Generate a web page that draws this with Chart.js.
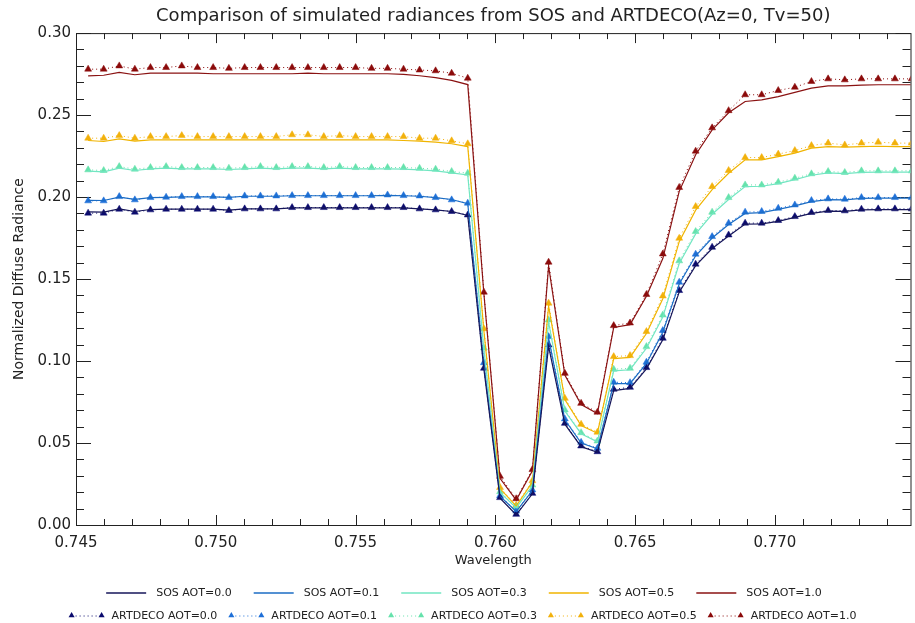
<!DOCTYPE html>
<html lang="en">
  <head>
    <meta charset="utf-8" />
    <title>SOS vs ARTDECO</title>
    <script src="https://cdn.jsdelivr.net/npm/chart.js@4.4.1/dist/chart.umd.min.js"></script>
    <style>
      body { margin: 0; background: #fff; }
      .wrap { width: 915px; height: 623px; }
    </style>
  </head>
  <body>
    <div class="wrap"><canvas id="chart"></canvas></div>
    <script>
      // wavelength of each sample (um)
      const wavelength = [
        0.745434, 0.745990, 0.746547, 0.747105, 0.747664, 0.748223, 0.748783, 0.749344, 0.749906, 0.750469, 0.751033, 0.751597, 0.752163,
        0.752729, 0.753296, 0.753864, 0.754432, 0.755002, 0.755572, 0.756144, 0.756716, 0.757289, 0.757863, 0.758437, 0.759013, 0.759590,
        0.760167, 0.760746, 0.761325, 0.761905, 0.762486, 0.763068, 0.763650, 0.764234, 0.764818, 0.765404, 0.765990, 0.766577, 0.767165,
        0.767754, 0.768344, 0.768935, 0.769527, 0.770119, 0.770713, 0.771307, 0.771903, 0.772499, 0.773096, 0.773694, 0.774293, 0.774893
      ];
      const aotLabels = ["0.0", "0.1", "0.3", "0.5", "1.0"];
      const xTicks = [0.745, 0.75, 0.755, 0.76, 0.765, 0.77];
      const yTicks = [0, 0.05, 0.1, 0.15, 0.2, 0.25, 0.3];

      const sos00 = [
        0.1910, 0.1908, 0.1928, 0.1912, 0.1924, 0.1926, 0.1926, 0.1926, 0.1926, 0.1920, 0.1928, 0.1928, 0.1928,
        0.1934, 0.1934, 0.1934, 0.1934, 0.1934, 0.1934, 0.1934, 0.1934, 0.1928, 0.1922, 0.1912, 0.1888, 0.0950,
        0.0163, 0.0062, 0.0190, 0.1090, 0.0615, 0.0478, 0.0444, 0.0820, 0.0833, 0.0952, 0.1130, 0.1420, 0.1582,
        0.1686, 0.1762, 0.1835, 0.1836, 0.1852, 0.1876, 0.1901, 0.1914, 0.1913, 0.1922, 0.1924, 0.1924, 0.1924
      ];
      const sos01 = [
        0.1980, 0.1979, 0.2000, 0.1986, 0.1996, 0.1998, 0.2001, 0.2001, 0.2001, 0.1998, 0.2005, 0.2005, 0.2005,
        0.2008, 0.2008, 0.2008, 0.2008, 0.2008, 0.2008, 0.2010, 0.2008, 0.2005, 0.1997, 0.1985, 0.1960, 0.0982,
        0.0175, 0.0082, 0.0210, 0.1140, 0.0642, 0.0500, 0.0465, 0.0862, 0.0862, 0.0985, 0.1176, 0.1470, 0.1642,
        0.1750, 0.1833, 0.1900, 0.1905, 0.1925, 0.1946, 0.1972, 0.1984, 0.1983, 0.1992, 0.1993, 0.1993, 0.1993
      ];
      const sos03 = [
        0.2158, 0.2154, 0.2176, 0.2162, 0.2172, 0.2176, 0.2172, 0.2172, 0.2172, 0.2168, 0.2172, 0.2176, 0.2172,
        0.2176, 0.2176, 0.2172, 0.2176, 0.2172, 0.2172, 0.2172, 0.2170, 0.2166, 0.2160, 0.2148, 0.2135, 0.1070,
        0.0198, 0.0104, 0.0238, 0.1238, 0.0695, 0.0557, 0.0507, 0.0940, 0.0947, 0.1078, 0.1268, 0.1595, 0.1775,
        0.1895, 0.1985, 0.2064, 0.2066, 0.2082, 0.2106, 0.2133, 0.2147, 0.2143, 0.2151, 0.2152, 0.2152, 0.2152
      ];
      const sos05 = [
        0.2345, 0.2339, 0.2355, 0.2341, 0.2349, 0.2349, 0.2349, 0.2349, 0.2349, 0.2349, 0.2349, 0.2349, 0.2349,
        0.2349, 0.2349, 0.2349, 0.2349, 0.2349, 0.2349, 0.2349, 0.2345, 0.2341, 0.2335, 0.2325, 0.2308, 0.1185,
        0.0222, 0.0115, 0.0262, 0.1335, 0.0765, 0.0607, 0.0560, 0.1015, 0.1022, 0.1168, 0.1380, 0.1728, 0.1920,
        0.2045, 0.2145, 0.2227, 0.2227, 0.2247, 0.2268, 0.2298, 0.2308, 0.2305, 0.2308, 0.2310, 0.2308, 0.2308
      ];
      const sos10 = [
        0.2739, 0.2743, 0.2760, 0.2746, 0.2756, 0.2756, 0.2756, 0.2756, 0.2752, 0.2752, 0.2752, 0.2752, 0.2752,
        0.2752, 0.2756, 0.2752, 0.2752, 0.2752, 0.2752, 0.2752, 0.2748, 0.2740, 0.2728, 0.2712, 0.2686, 0.1410,
        0.0285, 0.0152, 0.0330, 0.1580, 0.0915, 0.0735, 0.0680, 0.1205, 0.1222, 0.1395, 0.1625, 0.2035, 0.2258,
        0.2410, 0.2514, 0.2583, 0.2593, 0.2613, 0.2638, 0.2664, 0.2678, 0.2678, 0.2683, 0.2685, 0.2685, 0.2685
      ];

      const art00 = [
        0.1902, 0.1902, 0.1926, 0.1908, 0.1922, 0.1926, 0.1926, 0.1926, 0.1926, 0.1918, 0.1928, 0.1928, 0.1928,
        0.1936, 0.1936, 0.1936, 0.1936, 0.1936, 0.1936, 0.1936, 0.1936, 0.1928, 0.1922, 0.1912, 0.1891, 0.0956,
        0.0167, 0.0065, 0.0193, 0.1098, 0.0620, 0.0482, 0.0447, 0.0828, 0.0840, 0.0960, 0.1139, 0.1430, 0.1591,
        0.1694, 0.1769, 0.1841, 0.1841, 0.1857, 0.1881, 0.1906, 0.1918, 0.1916, 0.1926, 0.1928, 0.1928, 0.1928
      ];
      const art01 = [
        0.1977, 0.1977, 0.2003, 0.1983, 0.1997, 0.1999, 0.2003, 0.2003, 0.2003, 0.1997, 0.2007, 0.2007, 0.2007,
        0.2009, 0.2009, 0.2009, 0.2009, 0.2009, 0.2009, 0.2013, 0.2009, 0.2007, 0.1997, 0.1983, 0.1963, 0.0990,
        0.0179, 0.0085, 0.0214, 0.1149, 0.0647, 0.0504, 0.0468, 0.0871, 0.0868, 0.0993, 0.1186, 0.1481, 0.1652,
        0.1759, 0.1841, 0.1908, 0.1912, 0.1932, 0.1952, 0.1979, 0.1989, 0.1987, 0.1997, 0.1997, 0.1997, 0.1997
      ];
      const art03 = [
        0.2166, 0.2162, 0.2186, 0.2170, 0.2180, 0.2186, 0.2180, 0.2180, 0.2180, 0.2176, 0.2180, 0.2186, 0.2180,
        0.2186, 0.2186, 0.2180, 0.2186, 0.2180, 0.2180, 0.2180, 0.2180, 0.2176, 0.2170, 0.2156, 0.2146, 0.1080,
        0.0203, 0.0108, 0.0244, 0.1251, 0.0702, 0.0563, 0.0512, 0.0950, 0.0956, 0.1088, 0.1281, 0.1611, 0.1790,
        0.1908, 0.1997, 0.2074, 0.2074, 0.2091, 0.2115, 0.2142, 0.2156, 0.2150, 0.2160, 0.2160, 0.2160, 0.2160
      ];
      const art05 = [
        0.2359, 0.2359, 0.2375, 0.2359, 0.2369, 0.2369, 0.2375, 0.2369, 0.2369, 0.2369, 0.2369, 0.2369, 0.2369,
        0.2380, 0.2380, 0.2369, 0.2375, 0.2369, 0.2369, 0.2369, 0.2369, 0.2359, 0.2359, 0.2343, 0.2325, 0.1197,
        0.0229, 0.0120, 0.0270, 0.1353, 0.0773, 0.0614, 0.0566, 0.1027, 0.1033, 0.1180, 0.1397, 0.1749, 0.1942,
        0.2064, 0.2162, 0.2241, 0.2241, 0.2262, 0.2284, 0.2314, 0.2329, 0.2318, 0.2329, 0.2335, 0.2329, 0.2329
      ];
      const art10 = [
        0.2780, 0.2780, 0.2800, 0.2780, 0.2790, 0.2790, 0.2800, 0.2790, 0.2790, 0.2785, 0.2790, 0.2790, 0.2790,
        0.2790, 0.2790, 0.2790, 0.2790, 0.2790, 0.2785, 0.2785, 0.2780, 0.2775, 0.2770, 0.2755, 0.2725, 0.1420,
        0.0297, 0.0160, 0.0338, 0.1603, 0.0925, 0.0742, 0.0688, 0.1216, 0.1232, 0.1406, 0.1653, 0.2059, 0.2280,
        0.2422, 0.2527, 0.2624, 0.2624, 0.2650, 0.2670, 0.2705, 0.2721, 0.2715, 0.2721, 0.2721, 0.2721, 0.2721
      ];

      const sosSeries = [sos00, sos01, sos03, sos05, sos10];
      const artSeries = [art00, art01, art03, art05, art10];
      const sosColors = ["#16165a", "#1b6cc4", "#72e6c2", "#f0b400", "#8a1212"];
      const artColors = ["#0b0b6e", "#1f70d8", "#66e2ac", "#f2b10c", "#8b0a0a"];

      const toXY = (vals) => vals.map((v, i) => ({ x: wavelength[i], y: v }));

      const datasets = [];
      aotLabels.forEach((aot, k) => {
        datasets.push({
          label: "SOS AOT=" + aot,
          group: "SOS",
          data: toXY(sosSeries[k]),
          borderColor: sosColors[k],
          borderWidth: 1.2,
          pointRadius: 0,
          tension: 0,
        });
      });
      aotLabels.forEach((aot, k) => {
        datasets.push({
          label: "ARTDECO AOT=" + aot,
          group: "ARTDECO",
          data: toXY(artSeries[k]),
          borderColor: artColors[k],
          borderWidth: 1,
          borderDash: [1, 3],
          pointStyle: "triangle",
          pointRadius: 4,
          pointBackgroundColor: artColors[k],
          pointBorderColor: artColors[k],
          pointBorderWidth: 0.5,
          tension: 0,
        });
      });

      // IDL style box with inward ticks
      const boxTicks = {
        id: "boxTicks",
        beforeDatasetsDraw(chart) {
          const { ctx, chartArea: a, scales } = chart;
          const x = scales.x;
          const y = scales.y;
          ctx.save();
          ctx.strokeStyle = "#222";
          ctx.lineWidth = 1;
          ctx.strokeRect(a.left + 0.5, a.top + 0.5, a.right - a.left, a.bottom - a.top);
          ctx.beginPath();
          for (let i = 0; ; i++) {
            const v = 0.745 + i * 0.001;
            if (v > x.max + 1e-9) break;
            const px = Math.round(x.getPixelForValue(v)) + 0.5;
            const len = i % 5 === 0 ? 10 : 6;
            ctx.moveTo(px, a.bottom);
            ctx.lineTo(px, a.bottom - len);
            ctx.moveTo(px, a.top);
            ctx.lineTo(px, a.top + len);
          }
          for (let i = 0; i <= 30; i++) {
            const py = Math.round(y.getPixelForValue(i * 0.01)) + 0.5;
            const len = i % 5 === 0 ? 15 : 8;
            ctx.moveTo(a.left, py);
            ctx.lineTo(a.left + len, py);
            ctx.moveTo(a.right, py);
            ctx.lineTo(a.right - len, py);
          }
          ctx.stroke();
          ctx.restore();
        },
      };

      // two legend rows: SOS lines, then ARTDECO markers
      const rowLegend = {
        id: "rowLegend",
        afterDraw(chart) {
          const ctx = chart.ctx;
          const sets = chart.data.datasets;
          const rows = [
            { items: sets.filter((d) => d.group === "SOS"), y: 593, sample: 40, gap: 22 },
            { items: sets.filter((d) => d.group === "ARTDECO"), y: 616, sample: 30, gap: 14 },
          ];
          const tri = (cx, cy, r) => {
            ctx.beginPath();
            ctx.moveTo(cx, cy - r);
            ctx.lineTo(cx + r * 0.866, cy + r / 2);
            ctx.lineTo(cx - r * 0.866, cy + r / 2);
            ctx.closePath();
            ctx.fill();
          };
          ctx.save();
          ctx.font = '11px "DejaVu Sans"';
          ctx.textBaseline = "middle";
          rows.forEach((row) => {
            const widths = row.items.map((d) => ctx.measureText(d.label).width);
            const total = widths.reduce((s, w) => s + row.sample + 10 + w, 0) + row.gap * (row.items.length - 1);
            let x = 464 - total / 2;
            row.items.forEach((d, i) => {
              ctx.strokeStyle = d.borderColor;
              ctx.lineWidth = d.pointRadius > 0 ? 1 : 1.4;
              ctx.setLineDash(d.borderDash || []);
              ctx.beginPath();
              ctx.moveTo(x, row.y);
              ctx.lineTo(x + row.sample, row.y);
              ctx.stroke();
              ctx.setLineDash([]);
              if (d.pointRadius > 0) {
                ctx.fillStyle = d.pointBackgroundColor;
                tri(x, row.y - 0.5, 3.5);
                tri(x + row.sample, row.y - 0.5, 3.5);
              }
              ctx.fillStyle = "#222";
              ctx.fillText(d.label, x + row.sample + 10, row.y);
              x += row.sample + 10 + widths[i] + row.gap;
            });
          });
          ctx.restore();
        },
      };

      const font = (size) => ({ family: "DejaVu Sans", size: size, weight: "normal" });

      const ctx = document.getElementById("chart").getContext("2d");
      const chart = new Chart(ctx, {
        type: "line",
        data: { datasets: datasets },
        plugins: [boxTicks, rowLegend],
        options: {
          responsive: true,
          maintainAspectRatio: false,
          animation: false,
          layout: { padding: { left: 0, right: 1, top: 0, bottom: 0 } },
          plugins: {
            legend: { display: false },
            tooltip: { enabled: false },
            title: {
              display: true,
              fullSize: false,
              text: "Comparison of simulated radiances from SOS and ARTDECO(Az=0, Tv=50)",
              color: "#222",
              font: font(18),
              padding: { top: 6, bottom: 5.5 },
            },
          },
          scales: {
            x: {
              type: "linear",
              min: 0.745,
              max: 0.77485,
              grid: { display: false, drawTicks: false },
              border: { display: false },
              afterBuildTicks: (s) => {
                s.ticks = xTicks.map((v) => ({ value: v }));
              },
              afterFit: (s) => {
                s.height = 98;
              },
              ticks: {
                padding: 9,
                color: "#222",
                font: font(15),
                maxRotation: 0,
                autoSkip: false,
                callback: (v) => Number(v).toFixed(3),
              },
              title: {
                display: true,
                text: "Wavelength",
                color: "#222",
                font: font(13),
                padding: { top: 0, bottom: 55 },
              },
            },
            y: {
              min: 0,
              max: 0.3,
              grid: { display: false, drawTicks: false },
              border: { display: false },
              afterBuildTicks: (s) => {
                s.ticks = yTicks.map((v) => ({ value: v }));
              },
              afterFit: (s) => {
                s.width = 76;
              },
              ticks: {
                padding: 5,
                color: "#222",
                font: font(15),
                callback: (v) => Number(v).toFixed(2),
              },
              title: {
                display: true,
                text: "Normalized Diffuse Radiance",
                color: "#222",
                font: font(14),
                padding: { top: 11, bottom: 0 },
              },
            },
          },
        },
      });
    </script>
  </body>
</html>
